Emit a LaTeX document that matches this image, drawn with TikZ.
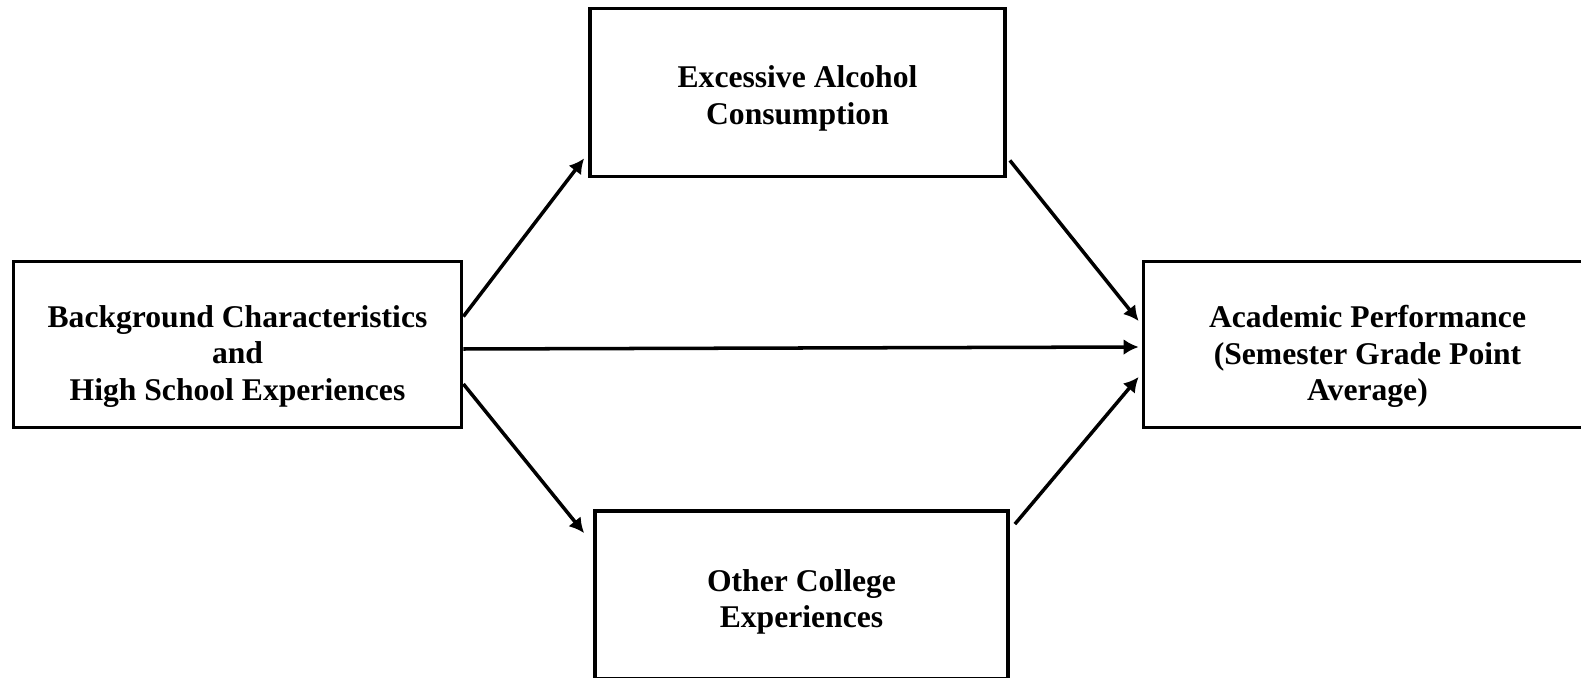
\documentclass[tikz,border=0pt]{standalone}
\usepackage{fontspec}
\setmainfont{Liberation Serif}
\usetikzlibrary{shapes,arrows.meta,calc}
\tikzstyle{block} = [rectangle, draw, line width=2.2pt, %rounded corners,
    inner sep=0pt]
\tikzstyle{blocktext} = [align=center, font=\bfseries\fontsize{18}{20.7}\selectfont]
\tikzstyle{line} = [draw, line width=2pt, -{Latex[length=8.5pt,width=9pt]}]

\begin{document}
\begin{tikzpicture}[x=0.02cm, y=-0.02cm]
    \clip (0,0) rectangle (1581,678);
    \node [block, minimum width=8.96cm, minimum height=3.32cm,
        label={[blocktext, yshift=-0.24cm]center:{Background Characteristics\\and\\High School Experiences}}]
        (background) at (237.5,344.5) {};
    \node [block, minimum width=8.3cm, minimum height=3.36cm,
        label={[blocktext, yshift=-0.12cm]center:{Excessive Alcohol\\Consumption}}]
        (alcohol) at (797.5,92.5) {};
    \node [block, minimum width=8.26cm, minimum height=3.36cm,
        label={[blocktext, yshift=-0.14cm]center:{Other College\\Experiences}}]
        (college) at (801.5,595) {};
    \node [block, minimum width=8.96cm, minimum height=3.32cm,
        label={[blocktext, yshift=-0.24cm]center:{Academic Performance\\(Semester Grade Point\\Average)}}]
        (gpa) at (1367.5,344.5) {};
    \path [line] ($(background.east)+(0,-28)$) -- ($(alcohol.south west)+(-4,-20)$);
    \path [line] ($(alcohol.south east)+(3,-18)$) -- ($(gpa.west)+(-3,-23.5)$);
    \path [line] ($(background.east)+(0,4.5)$) -- ($(gpa.west)+(-3,2.5)$);
    \path [line] ($(background.east)+(0,39.5)$) -- ($(college.north west)+(-9,24)$);
    \path [line] ($(college.north east)+(5,15)$) -- ($(gpa.west)+(-3,32.5)$);
\end{tikzpicture}
\end{document}
